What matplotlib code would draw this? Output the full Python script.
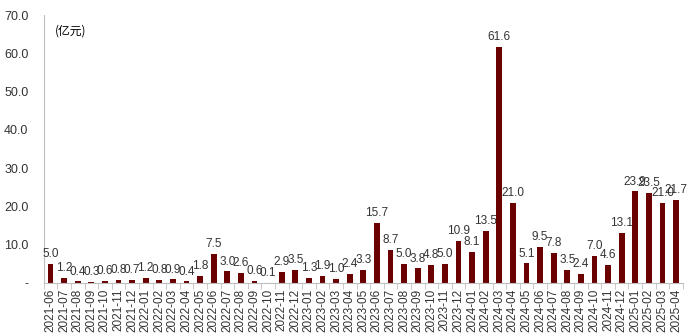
import matplotlib
matplotlib.use('Agg')
import matplotlib.pyplot as plt
from matplotlib.ticker import FixedLocator, FuncFormatter

plt.rcParams['font.family'] = ['Liberation Sans', 'Noto Sans CJK SC', 'DejaVu Sans']

# -------------------------------
# Data
# -------------------------------
months = ['2021-06', '2021-07', '2021-08', '2021-09', '2021-10', '2021-11', '2021-12',
          '2022-01', '2022-02', '2022-03', '2022-04', '2022-05', '2022-06', '2022-07',
          '2022-08', '2022-09', '2022-10', '2022-11', '2022-12',
          '2023-01', '2023-02', '2023-03', '2023-04', '2023-05', '2023-06', '2023-07',
          '2023-08', '2023-09', '2023-10', '2023-11', '2023-12',
          '2024-01', '2024-02', '2024-03', '2024-04', '2024-05', '2024-06', '2024-07',
          '2024-08', '2024-09', '2024-10', '2024-11', '2024-12',
          '2025-01', '2025-02', '2025-03', '2025-04']
values = [5.0, 1.2, 0.4, 0.3, 0.6, 0.8, 0.7,
          1.2, 0.8, 0.9, 0.4, 1.8, 7.5, 3.0,
          2.6, 0.6, 0.1, 2.9, 3.5,
          1.3, 1.9, 1.0, 2.4, 3.3, 15.7, 8.7,
          5.0, 3.8, 4.8, 5.0, 10.9,
          8.1, 13.5, 61.6, 21.0, 5.1, 9.5, 7.8,
          3.5, 2.4, 7.0, 4.6, 13.1,
          23.9, 23.5, 21.0, 21.7]

# -------------------------------
# Plot
# -------------------------------
fig = plt.figure(figsize=(6.94, 3.36), dpi=100)
ax = fig.add_axes([0.063, 0.158, 0.921, 0.797])

x = list(range(len(months)))
ax.bar(x, values, width=0.42, color='#6B0000')

for xi, v in zip(x, values):
    ax.text(xi, v + 1.0, f'{v:.1f}', ha='center', va='bottom', fontsize=8.5, color='#333333')

ax.set_ylim(0, 70)
ax.set_xlim(-0.5, len(months) - 0.5)
ax.set_yticks(range(0, 71, 10))
ax.yaxis.set_major_formatter(FuncFormatter(lambda v, p: '-' if v == 0 else f'{v:.1f}'))
ax.tick_params(axis='y', length=0, labelsize=9, labelcolor='#333333', pad=11)

ax.set_xticks(x)
ax.set_xticklabels(months, rotation=90, fontsize=8.5, color='#333333')
ax.tick_params(axis='x', which='major', length=0, pad=4)
ax.xaxis.set_minor_locator(FixedLocator([i - 0.5 for i in range(len(months) + 1)]))
ax.tick_params(axis='x', which='minor', length=4, color='#BFBFBF', direction='out')

for s in ['top', 'right']:
    ax.spines[s].set_visible(False)
for s in ['left', 'bottom']:
    ax.spines[s].set_color('#BFBFBF')

ax.text(0.018, 0.965, '(亿元)', transform=ax.transAxes, fontsize=8.5, ha='left', va='top',
        family=['Noto Sans CJK SC', 'DejaVu Sans'])

fig.savefig('out.png', dpi=100)
